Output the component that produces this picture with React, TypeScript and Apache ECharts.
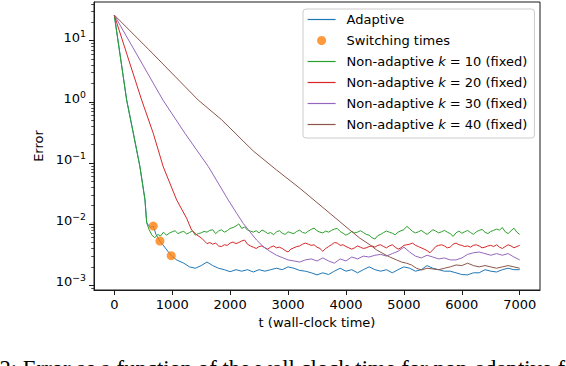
import React, { useEffect, useRef } from 'react';
import * as echarts from 'echarts';

// ---------- data (t = wall-clock time, values = error) ----------
const xTicks = [0, 1000, 2000, 3000, 4000, 5000, 6000, 7000];
const yDecades = [-3, -2, -1, 0, 1];

const range = (start: number, end: number, step: number) => {
  const out: number[] = [];
  for (let v = start; v <= end + 1e-9; v += step) out.push(v);
  return out;
};

// Adaptive
const adaptiveHeadT = [0, 214, 328, 443, 530, 560, 620, 673, 720, 788, 880, 983, 1077];
const adaptiveHeadErr = [26.3, 1.07, 0.31, 0.087, 0.025, 0.0105, 0.0088, 0.0093, 0.0068, 0.0053, 0.0041, 0.00305, 0.0026];
const adaptiveTailT = range(1200, 7000, 100);
const adaptiveTailErr = [
  0.0023, 0.002, 0.0019, 0.0021, 0.0024, 0.0021, 0.0019, 0.0018, 0.00167, 0.0018,
  0.0017, 0.0018, 0.00165, 0.0018, 0.0017, 0.0018, 0.0019, 0.0018, 0.002, 0.0019,
  0.00175, 0.0017, 0.0016, 0.00148, 0.0016, 0.0015, 0.0017, 0.0019, 0.0017, 0.0018,
  0.0016, 0.0018, 0.002, 0.0018, 0.0017, 0.0018, 0.0016, 0.0018, 0.002, 0.0019,
  0.0017, 0.0018, 0.0021, 0.0019, 0.0018, 0.0017, 0.0017, 0.0016, 0.0015, 0.00148,
  0.0016, 0.0016, 0.0018, 0.0017, 0.00165, 0.0018, 0.0019, 0.0018, 0.0018,
];

// Switching times
const switchT = [673, 788, 983];
const switchErr = [0.0093, 0.0053, 0.00305];

// k = 10
const k10HeadT = [0, 214, 328, 443, 530, 560, 600, 650];
const k10HeadErr = [26.3, 1.07, 0.31, 0.087, 0.025, 0.0105, 0.0082, 0.0066];
const k10TailT = range(700, 7000, 50);
const k10TailErr = [
  0.006, 0.0068, 0.0064, 0.0074, 0.0066, 0.0071, 0.0075, 0.0078, 0.007, 0.0074,
  0.0076, 0.0069, 0.0073, 0.0078, 0.0066, 0.007, 0.0072, 0.0076, 0.0074, 0.0079,
  0.0081, 0.007, 0.0077, 0.0081, 0.0074, 0.0078, 0.0085, 0.0088, 0.0093, 0.0101,
  0.0085, 0.009, 0.008, 0.0077, 0.0074, 0.0078, 0.0072, 0.008, 0.0076, 0.007,
  0.0073, 0.0067, 0.0075, 0.0078, 0.0071, 0.0068, 0.0075, 0.0072, 0.007, 0.0076,
  0.008, 0.0073, 0.0071, 0.0077, 0.0082, 0.0086, 0.0078, 0.0074, 0.0072, 0.0077,
  0.0074, 0.0079, 0.0083, 0.0085, 0.0076, 0.0071, 0.0066, 0.007, 0.0076, 0.0072,
  0.0074, 0.0078, 0.0073, 0.0068, 0.0066, 0.006, 0.0057, 0.0065, 0.0068, 0.0073,
  0.0077, 0.0074, 0.0071, 0.0067, 0.0074, 0.0078, 0.0081, 0.0092, 0.0084, 0.0076,
  0.0072, 0.0075, 0.0079, 0.0073, 0.0068, 0.0074, 0.0081, 0.0077, 0.0072, 0.0075,
  0.0079, 0.0074, 0.007, 0.0063, 0.0072, 0.0077, 0.0071, 0.0075, 0.0079, 0.0073,
  0.0068, 0.0075, 0.0079, 0.0082, 0.0074, 0.007, 0.0076, 0.0079, 0.0083, 0.008,
  0.0088, 0.0075, 0.007, 0.0078, 0.0086, 0.0074, 0.0068,
];

// k = 20
const k20HeadT = [0, 473, 673, 845, 1077, 1249, 1335, 1422, 1508, 1565];
const k20HeadErr = [26.3, 1.07, 0.306, 0.087, 0.0249, 0.0125, 0.008, 0.0067, 0.0059, 0.0052];
const k20TailT = range(1600, 7000, 50);
const k20TailErr = [
  0.0048, 0.005, 0.0047, 0.0049, 0.0044, 0.0043, 0.0046, 0.0045, 0.0049, 0.0051,
  0.0048, 0.005, 0.0053, 0.0055, 0.0047, 0.0044, 0.0042, 0.004, 0.0043, 0.0044,
  0.0041, 0.0039, 0.0042, 0.0044, 0.0041, 0.0042, 0.004, 0.0037, 0.0035, 0.0039,
  0.0041, 0.0043, 0.0044, 0.0047, 0.0049, 0.0047, 0.0045, 0.0046, 0.0042, 0.004,
  0.0036, 0.004, 0.0043, 0.0046, 0.005, 0.0049, 0.0045, 0.0046, 0.0043, 0.0041,
  0.0039, 0.0041, 0.0044, 0.0042, 0.004, 0.0041, 0.0043, 0.0044, 0.0042, 0.0045,
  0.0046, 0.0043, 0.0041, 0.0044, 0.0046, 0.0042, 0.0039, 0.0041, 0.0045, 0.0046,
  0.0047, 0.0049, 0.0045, 0.0043, 0.0041, 0.0039, 0.0037, 0.0034, 0.0038, 0.0043,
  0.0045, 0.0046, 0.0044, 0.0041, 0.0042, 0.0047, 0.0049, 0.0046, 0.0045, 0.0043,
  0.0044, 0.0042, 0.0045, 0.0046, 0.0044, 0.0041, 0.0042, 0.0044, 0.0045, 0.0043,
  0.0046, 0.0042, 0.004, 0.0043, 0.0046, 0.0044, 0.0041, 0.0043, 0.0045,
];

// k = 30
const k30HeadT = [0, 840, 1220, 1625, 1967, 2112, 2226, 2341, 2457, 2571, 2686, 2802, 2916];
const k30HeadErr = [26.3, 1.07, 0.306, 0.087, 0.0249, 0.0151, 0.0103, 0.0075, 0.0055, 0.0043, 0.0036, 0.0031, 0.0028];
const k30TailT = range(3000, 7000, 100);
const k30TailErr = [
  0.0026, 0.0025, 0.0024, 0.0026, 0.0027, 0.0025, 0.0028, 0.0025, 0.0023, 0.0027,
  0.0025, 0.0029, 0.0027, 0.003, 0.0029, 0.0031, 0.0032, 0.003, 0.0033, 0.0036,
  0.0042, 0.0035, 0.003, 0.0028, 0.0031, 0.0029, 0.0027, 0.0028, 0.0026, 0.0026,
  0.0028, 0.0032, 0.0034, 0.0035, 0.0033, 0.0031, 0.0033, 0.0031, 0.0033, 0.0029,
  0.0026,
];

// k = 40
const k40HeadT = [0, 600, 1449, 1853, 2400, 2800, 3204, 3894, 4067, 4240, 4412, 4527, 4641, 4757, 4872, 4959, 5045, 5131, 5217, 5304];
const k40HeadErr = [26.3, 7.1, 1.07, 0.51, 0.157, 0.077, 0.0386, 0.011, 0.008, 0.0059, 0.0046, 0.0038, 0.0033, 0.0029, 0.0026, 0.0024, 0.0023, 0.00215, 0.0019, 0.00178];
const k40TailT = range(5400, 7000, 100);
const k40TailErr = [
  0.0019, 0.00185, 0.0018, 0.0019, 0.002, 0.00215, 0.0021, 0.0023, 0.0021, 0.002,
  0.0021, 0.002, 0.0019, 0.002, 0.0021, 0.002, 0.0019,
];

const seriesNames = [
  'Adaptive',
  'Switching times',
  'Non-adaptive k = 10 (fixed)',
  'Non-adaptive k = 20 (fixed)',
  'Non-adaptive k = 30 (fixed)',
  'Non-adaptive k = 40 (fixed)',
];
const colors = ['#1f77b4', '#ff7f0e', '#2ca02c', '#d62728', '#9467bd', '#8c564b'];

const captionText = '2: Error as a function of the wall clock time for non-adaptive f';

// ---------- helpers ----------
const toPairs = (ts: number[], vs: number[]) => ts.map((t, i) => [t, Math.log10(vs[i])]);
const Y_MIN = -3.077;
const Y_MAX = 1.633;
const FONT = 'DejaVu Sans';
const AXIS_COLOR = '#1a1a1a';

const minorTicks: number[] = [];
for (let n = -4; n <= 1; n++) {
  for (let k = 2; k <= 9; k++) {
    const v = Math.log10(k) + n;
    if (v > Y_MIN && v < Y_MAX) minorTicks.push(v);
  }
}

const lineSeries = (idx: number, ts: number[], vs: number[]) => ({
  name: seriesNames[idx],
  type: 'line',
  data: toPairs(ts, vs),
  symbol: 'none',
  showSymbol: false,
  lineStyle: { width: 1, color: colors[idx] },
  itemStyle: { color: colors[idx] },
  z: 2,
});

export default function App() {
  const ref = useRef<HTMLDivElement>(null);
  useEffect(() => {
    if (!ref.current) return;
    const chart = echarts.init(ref.current, null, { renderer: 'svg' });
    const option: any = {
      animation: false,
      backgroundColor: '#ffffff',
      grid: {
        left: 94,
        right: 26,
        top: 2,
        bottom: 76,
        show: true,
        borderColor: AXIS_COLOR,
        borderWidth: 1,
        backgroundColor: 'transparent',
      },
      legend: {
        orient: 'vertical',
        left: 303,
        top: 9,
        padding: [3, 7, 6, 4],
        itemGap: 6,
        itemWidth: 28,
        itemHeight: 9,
        backgroundColor: 'rgba(255,255,255,0.8)',
        borderColor: '#cccccc',
        borderWidth: 1,
        borderRadius: 3,
        data: seriesNames.map((name, i) =>
          i === 1
            ? { name, icon: 'circle', itemStyle: { color: colors[i] } }
            : { name, itemStyle: { opacity: 0 }, lineStyle: { color: colors[i], width: 1.2 } }
        ),
        formatter: (name: string) => name.replace(' k = ', ' {i|k} = '),
        textStyle: {
          fontFamily: FONT,
          fontSize: 13,
          color: '#000',
          lineHeight: 15,
          padding: [0, 0, 0, 6],
          rich: {
            i: { fontFamily: FONT, fontSize: 13, fontStyle: 'italic', color: '#000', lineHeight: 15 },
          },
        },
      },
      xAxis: {
        type: 'value',
        min: -350,
        max: 7350,
        name: 't (wall-clock time)',
        nameLocation: 'middle',
        nameGap: 26,
        nameTextStyle: { fontFamily: FONT, fontSize: 13, color: '#000' },
        axisLine: { show: true, onZero: false, lineStyle: { color: AXIS_COLOR, width: 1 } },
        axisTick: { show: true, customValues: xTicks, length: 5, lineStyle: { color: AXIS_COLOR, width: 1 } },
        axisLabel: {
          customValues: xTicks,
          fontFamily: FONT,
          fontSize: 13,
          color: '#000',
          margin: 8,
          formatter: (v: number) => String(v),
        },
        splitLine: { show: false },
      },
      yAxis: [
        {
          type: 'value',
          min: Y_MIN,
          max: Y_MAX,
          position: 'left',
          name: 'Error',
          nameLocation: 'middle',
          nameGap: 45,
          nameRotate: 90,
          nameTextStyle: { fontFamily: FONT, fontSize: 13, color: '#000' },
          axisLine: { show: true, onZero: false, lineStyle: { color: AXIS_COLOR, width: 1 } },
          axisTick: { show: true, customValues: yDecades, length: 5, lineStyle: { color: AXIS_COLOR, width: 1 } },
          axisLabel: {
            customValues: yDecades,
            margin: 8,
            padding: [0, 0, 9, 0],
            formatter: (v: number) => {
              const n = Math.round(v);
              const e = n < 0 ? '\u2212' + Math.abs(n) : String(n);
              return '{b|10}{s|' + e + '}';
            },
            rich: {
              b: { fontFamily: FONT, fontSize: 13, color: '#000', lineHeight: 15, verticalAlign: 'bottom' },
              s: { fontFamily: FONT, fontSize: 9.3, color: '#000', lineHeight: 10, padding: [0, 0, 9, 0], verticalAlign: 'top' },
            },
          },
          splitLine: { show: false },
        },
        {
          type: 'value',
          min: Y_MIN,
          max: Y_MAX,
          position: 'left',
          axisLine: { show: false, onZero: false },
          axisTick: { show: true, customValues: minorTicks, length: 2.8, lineStyle: { color: AXIS_COLOR, width: 0.8 } },
          axisLabel: { show: false },
          splitLine: { show: false },
        },
      ],
      series: [
        lineSeries(0, adaptiveHeadT.concat(adaptiveTailT), adaptiveHeadErr.concat(adaptiveTailErr)),
        {
          name: seriesNames[1],
          type: 'scatter',
          data: toPairs(switchT, switchErr),
          symbol: 'circle',
          symbolSize: 9,
          itemStyle: { color: colors[1] },
          z: 5,
        },
        lineSeries(2, k10HeadT.concat(k10TailT), k10HeadErr.concat(k10TailErr)),
        lineSeries(3, k20HeadT.concat(k20TailT), k20HeadErr.concat(k20TailErr)),
        lineSeries(4, k30HeadT.concat(k30TailT), k30HeadErr.concat(k30TailErr)),
        lineSeries(5, k40HeadT.concat(k40TailT), k40HeadErr.concat(k40TailErr)),
      ],
      graphic: [
        {
          type: 'text',
          x: -0.6,
          y: 368.5,
          silent: true,
          style: {
            text: captionText,
            fontFamily: 'Liberation Serif',
            fontSize: 22.7,
            fill: '#000',
            verticalAlign: 'middle',
            align: 'left',
          },
        },
      ],
    };
    chart.setOption(option);
    return () => chart.dispose();
  }, []);
  return <div ref={ref} style={{ position: 'fixed', left: 0, top: 0, width: 566, height: 366 }} />;
}
